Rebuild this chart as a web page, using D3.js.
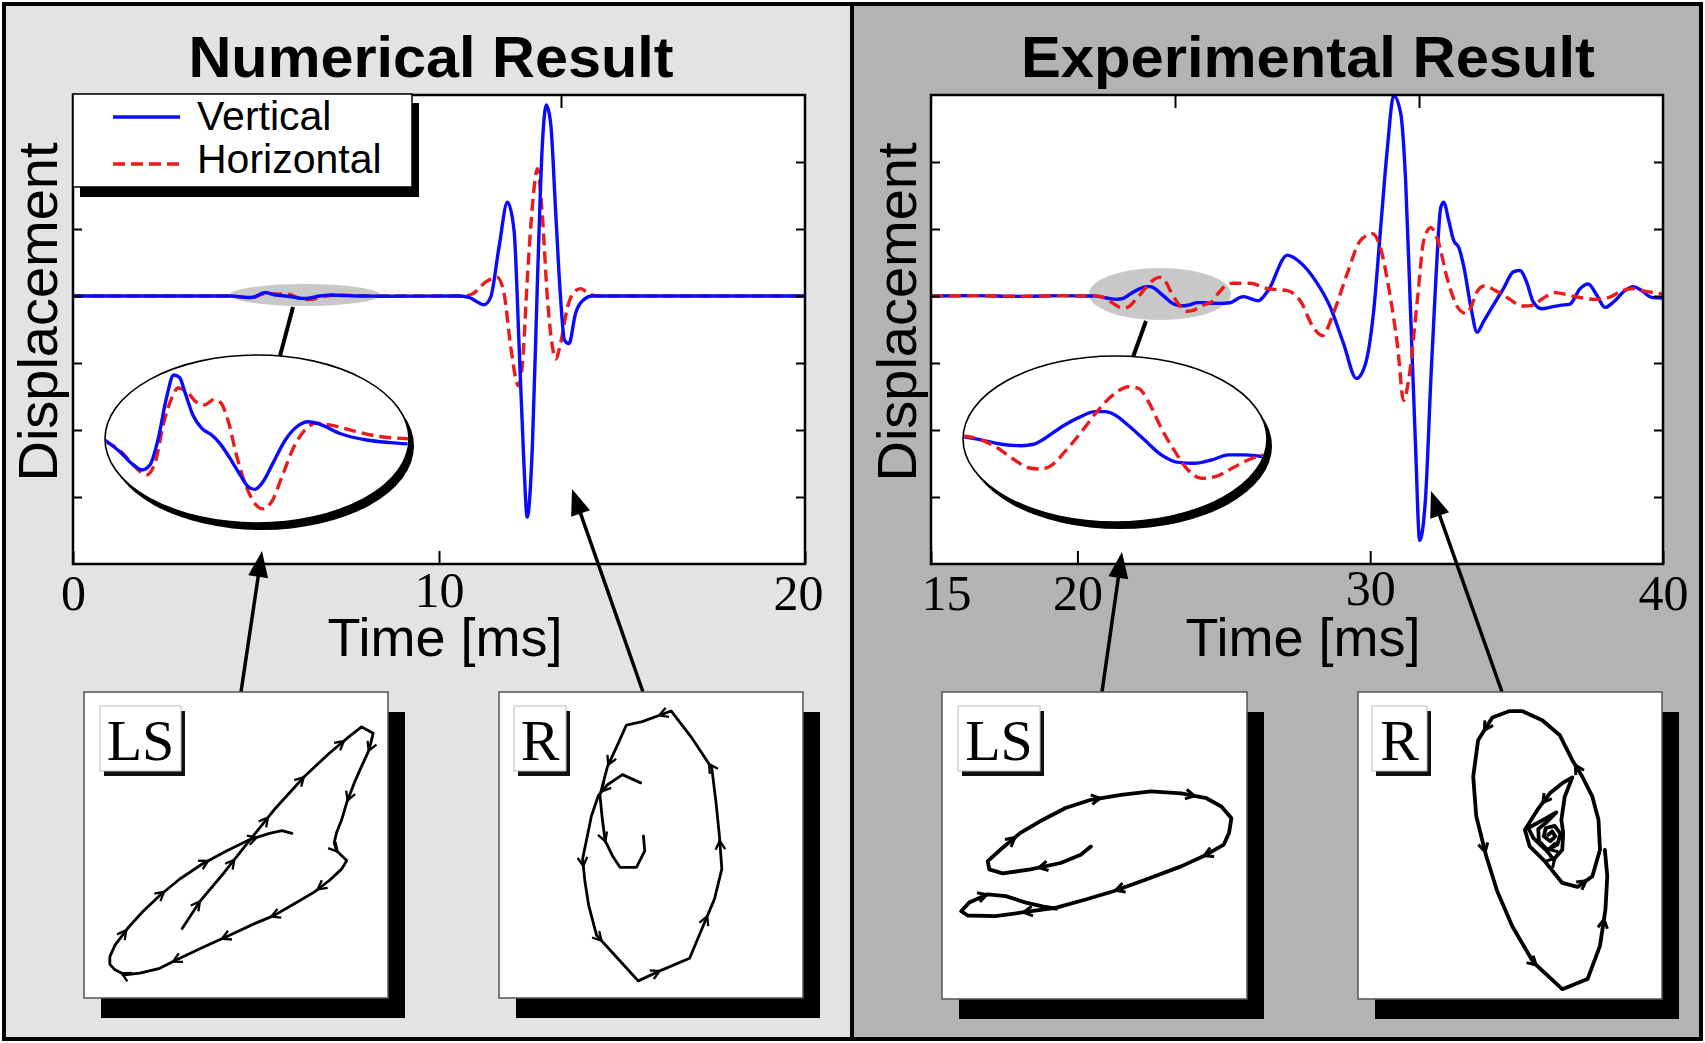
<!DOCTYPE html>
<html>
<head>
<meta charset="utf-8">
<script src="https://cdn.jsdelivr.net/npm/d3@7"></script>
<style>
  html, body { margin: 0; padding: 0; background: #ffffff; }
  svg { display: block; }
</style>
</head>
<body>
<svg id="fig" width="1705" height="1043"></svg>
<script>
// ---------- axis ticks ----------
const numTicks = [0, 10, 20];
const expTicks = [15, 20, 30, 40];
const yTicks = [-3, -2, -1, 0, 1, 2];

// ---------- numerical result: [time ms, displacement] ----------
// Love-type (LS) arrival, shown magnified in the ellipse
const numLsVertical = [
  [4.30, 0.000], [4.50, -0.009], [4.68, -0.019], [4.80, -0.023], [4.91, -0.019],
  [5.02, 0.001], [5.13, 0.032], [5.23, 0.050], [5.31, 0.048], [5.38, 0.037],
  [5.49, 0.019], [5.61, 0.009], [5.74, 0.004], [5.86, -0.003], [5.99, -0.014],
  [6.13, -0.027], [6.24, -0.036], [6.33, -0.038], [6.44, -0.032], [6.58, -0.017],
  [6.74, 0.000], [6.89, 0.010], [7.05, 0.014], [7.21, 0.012], [7.48, 0.005],
  [7.84, 0.000], [8.16, -0.002], [8.40, -0.003]
];
const numLsHorizontal = [
  [4.30, -0.001], [4.50, -0.008], [4.68, -0.019], [4.86, -0.027], [4.98, -0.017],
  [5.09, 0.012], [5.20, 0.032], [5.29, 0.040], [5.41, 0.037], [5.54, 0.029],
  [5.65, 0.027], [5.77, 0.031], [5.86, 0.029], [5.97, 0.014], [6.08, -0.012],
  [6.22, -0.037], [6.33, -0.049], [6.44, -0.053], [6.56, -0.047], [6.69, -0.029],
  [6.85, -0.006], [7.01, 0.008], [7.16, 0.013], [7.39, 0.011], [7.66, 0.007],
  [7.98, 0.003], [8.40, 0.001]
];
// Rayleigh (R) wave packet
const numPacketVertical = [
  [10.5, 0], [10.82, -0.02], [11.05, -0.09], [11.23, -0.13], [11.41, -0.02],
  [11.64, 0.73], [11.87, 1.40], [12.05, 0.98], [12.19, -0.76], [12.32, -2.50],
  [12.41, -3.30], [12.55, -2.26], [12.69, 0.23], [12.82, 2.22], [12.93, 2.85],
  [13.05, 2.58], [13.19, 1.23], [13.32, -0.02], [13.43, -0.66], [13.55, -0.71],
  [13.73, -0.26], [13.92, -0.07], [14.19, 0], [20, 0]
];
const numPacketHorizontal = [
  [10.3, 0], [10.64, 0], [10.91, 0.03], [11.28, 0.21], [11.59, 0.28],
  [11.78, 0.03], [11.96, -0.76], [12.17, -1.34], [12.28, -1.01], [12.41, 0.23],
  [12.55, 1.33], [12.69, 1.90], [12.82, 1.23], [12.96, -0.02], [13.10, -0.76],
  [13.19, -0.94], [13.32, -0.71], [13.51, -0.17], [13.69, 0.06], [13.87, 0.11],
  [14.10, 0.03], [14.37, 0], [20, 0]
];

// ---------- experimental result: [time ms, displacement] ----------
const expLead = [[15, 0], [16.5, 0.005], [18, -0.005], [19.5, 0.005], [20.3, 0]];
const expLsVertical = [
  [20.60, 0.002], [20.85, -0.017], [21.11, -0.040], [21.37, -0.048], [21.53, -0.040],
  [21.68, -0.007], [21.90, 0.057], [22.12, 0.107], [22.34, 0.140], [22.47, 0.140],
  [22.60, 0.122], [22.77, 0.066], [22.99, -0.017], [23.21, -0.099], [23.43, -0.140],
  [23.65, -0.145], [23.87, -0.127], [24.09, -0.099], [24.31, -0.099], [24.55, -0.109]
];
const expLsHorizontal = [
  [20.60, 0.006], [20.85, -0.017], [21.06, -0.062], [21.28, -0.127], [21.46, -0.170],
  [21.61, -0.177], [21.77, -0.155], [21.94, -0.081], [22.16, 0.029], [22.38, 0.149],
  [22.60, 0.241], [22.78, 0.278], [22.91, 0.269], [23.04, 0.195], [23.21, 0.048],
  [23.39, -0.081], [23.56, -0.182], [23.74, -0.228], [23.92, -0.219], [24.14, -0.173],
  [24.35, -0.127], [24.55, -0.099]
];
const expPacketVertical = [
  [24.87, -0.11], [25.20, -0.10], [25.66, -0.01], [26.17, -0.07], [26.51, 0.08],
  [27.17, 0.61], [27.61, 0.50], [28.13, 0.23], [28.64, -0.17], [29.09, -0.71],
  [29.53, -1.23], [29.84, -1.01], [30.11, -0.26], [30.35, 0.98], [30.59, 2.22],
  [30.80, 2.99], [31.04, 2.73], [31.21, 1.72], [31.38, -0.26], [31.55, -2.26],
  [31.69, -3.65], [31.89, -3.01], [32.07, -1.26], [32.24, 0.23], [32.41, 1.32],
  [32.51, 1.40], [32.68, 1.13], [32.85, 0.83], [33.03, 0.72], [33.20, 0.43],
  [33.44, -0.17], [33.65, -0.54], [33.86, -0.39], [34.20, -0.14], [34.55, 0.11],
  [34.89, 0.36], [35.12, 0.38], [35.34, 0.21], [35.57, -0.09], [35.86, -0.19],
  [36.14, -0.17], [36.48, -0.14], [36.82, -0.12], [37.17, 0.11], [37.45, 0.18],
  [37.74, 0.01], [38.02, -0.17], [38.31, -0.09], [38.70, 0.08], [38.99, 0.14],
  [39.27, 0.08], [39.61, -0.02], [40.0, -0.03]
];
const expPacketHorizontal = [
  [24.85, 0.06], [25.10, 0.17], [25.32, 0.19], [25.90, 0.19], [26.48, 0.11],
  [27.17, 0.08], [27.61, -0.07], [28.06, -0.47], [28.37, -0.59], [28.74, -0.26],
  [29.22, 0.34], [29.67, 0.83], [30.08, 0.93], [30.35, 0.72], [30.63, 0.13],
  [30.94, -0.77], [31.14, -1.56], [31.31, -1.26], [31.62, -0.02], [31.83, 0.83],
  [32.07, 1.02], [32.31, 0.83], [32.65, 0.23], [32.99, -0.17], [33.27, -0.26],
  [33.45, -0.16], [33.62, 0.04], [33.89, 0.15], [34.28, 0.08], [34.74, -0.04],
  [35.19, -0.15], [35.54, -0.14], [35.88, -0.04], [36.34, 0.05], [36.79, 0.01],
  [37.25, -0.03], [37.70, -0.05], [38.16, -0.02], [38.61, 0.08], [38.96, 0.11],
  [39.41, 0.07], [40.0, 0.03]
];

// full traces
const numVertical = [[0, 0]].concat(numLsVertical, numPacketVertical);
const numHorizontal = [[0, 0]].concat(numLsHorizontal, numPacketHorizontal);
const expVertical = expLead.concat(expLsVertical, expPacketVertical);
const expHorizontal = expLead.concat(expLsHorizontal, expPacketHorizontal);

// ---------- particle motion (hodograms): [horizontal, vertical] ----------
const lsNum = [
  [32.3, 22.7], [38.0, 31.4], [46.2, 41.1], [54.4, 51.4], [62.6, 61.6], [72.5, 72.4],
  [80.7, 80.0], [87.2, 85.4], [91.3, 88.6], [95.1, 86.5], [93.8, 81.1], [91.3, 75.7],
  [88.9, 70.3], [86.4, 63.8], [84.8, 58.4], [83.1, 54.1], [82.3, 50.8], [83.1, 48.1],
  [86.4, 44.9], [84.8, 42.2], [80.7, 38.4], [75.7, 34.6], [69.2, 30.8], [62.6, 27.0],
  [56.1, 24.3], [47.9, 20.5], [39.7, 16.8], [31.5, 13.0], [24.9, 9.7], [18.4, 8.1],
  [13.4, 7.6], [10.2, 9.2], [8.5, 11.0], [8.5, 13.5], [10.2, 17.3], [14.3, 22.7],
  [19.2, 28.1], [24.9, 33.5], [31.5, 38.9], [38.9, 43.8], [47.0, 48.1], [54.4, 51.7],
  [61.0, 53.8], [65.1, 54.7], [68.4, 53.8]
];
const rNum = [
  [46.6, 70.3], [40.6, 73.0], [35.7, 69.7], [32.7, 66.2], [30.4, 59.5], [27.5, 45.4],
  [28.3, 37.8], [29.5, 30.3], [32.1, 20.5], [39.0, 13.0], [45.8, 5.6], [53.7, 9.2],
  [62.7, 13.0], [66.8, 22.7], [70.9, 32.4], [73.3, 42.2], [72.5, 53.0], [71.4, 63.8],
  [70.0, 75.1], [63.5, 84.9], [56.6, 93.8], [47.1, 90.3], [41.9, 89.2], [39.0, 82.7],
  [35.7, 75.7], [33.2, 66.2], [34.0, 58.4], [34.9, 51.4], [37.3, 46.5], [39.8, 42.7],
  [45.2, 42.7], [47.95, 48.1], [47.5, 53.0]
];
const lsExp = [
  [48.8, 49.7], [45.5, 47.0], [38.9, 44.3], [29.0, 42.2], [19.9, 40.9], [15.5, 42.2],
  [15.0, 44.9], [19.1, 48.6], [25.7, 54.1], [33.1, 58.4], [40.5, 62.2], [48.8, 64.9],
  [58.7, 66.5], [68.5, 67.6], [78.4, 67.0], [86.7, 65.4], [91.6, 62.7], [94.9, 58.9],
  [94.1, 54.1], [92.4, 50.3], [86.7, 47.0], [78.4, 43.2], [66.9, 38.9], [56.2, 35.1],
  [47.1, 32.4], [37.2, 29.7], [25.7, 28.1], [17.5, 27.0], [8.4, 27.2], [6.3, 28.6],
  [8.9, 31.4], [15.0, 34.1], [20.9, 33.5], [27.5, 31.4], [33.3, 30.1], [37.4, 29.4]
];
const rExp = [
  [62.6, 53.5], [63.9, 54.6], [64.9, 53.0], [63.3, 51.4], [61.1, 53.0], [61.8, 55.7],
  [64.7, 56.4], [66.6, 53.8], [65.6, 50.3], [62.3, 48.6], [59.5, 51.4], [59.3, 55.4],
  [62.3, 57.8], [65.2, 60.8], [60.6, 58.2], [56.0, 55.7], [57.7, 52.4], [62.3, 48.1],
  [64.3, 45.4], [67.2, 48.6], [67.5, 54.1], [66.9, 58.4], [68.0, 65.9], [70.5, 72.2],
  [67.2, 70.3], [63.1, 67.0], [59.0, 61.6], [54.9, 55.1], [56.5, 49.7], [61.4, 44.9],
  [67.2, 37.8], [72.2, 36.5], [77.1, 40.0], [79.6, 48.6], [79.1, 58.4], [77.1, 65.9],
  [73.8, 72.4], [70.5, 77.8], [66.4, 85.9], [60.6, 90.8], [54.0, 93.8], [49.9, 93.8],
  [44.2, 91.7], [39.5, 84.3], [37.9, 72.4], [38.9, 59.5], [42.2, 46.5], [45.8, 35.1],
  [50.7, 23.8], [57.7, 11.9], [67.2, 3.2], [75.5, 6.5], [79.6, 17.3], [81.4, 29.2],
  [82.0, 40.0], [81.2, 48.6]
];

const seriesNames = ["Vertical", "Horizontal"];

// ---------- styling ----------
const SANS = "'Liberation Sans', Arial, Helvetica, sans-serif";
const SERIF = "'Liberation Serif', 'Times New Roman', serif";
const BLUE = "#0a0aff";
const RED = "#ec1a1a";
const DASH = "12,6";
const TRACE_W = 3.4;
const PLOT_TOP = 95, PLOT_BOTTOM = 564;

const panels = [
  {
    id: "num", x: 4, width: 848, fill: "#e3e3e3",
    title: "Numerical Result", titleX: 431, titleLen: 485,
    plotL: 73, plotR: 805, domain: [0, 20], ticks: numTicks,
    topTicks: [20 / 3, 40 / 3], tickShift: { 20: [-7, 0], 10: [0, -3] },
    vertical: numVertical, horizontal: numHorizontal, redOnTop: false,
    ylabelX: 57, timeX: 445, legend: true,
    lens: { cx: 305, cy: 295, rx: 75, ry: 11 },
    link: [[293, 307], [280, 356]],
    inset: { cx: 257, cy: 439, rx: 152, ry: 84, dom: [4.3, 8.4], x0: 105, x1: 408,
             base: 440, gain: 1300, v: numLsVertical, h: numLsHorizontal },
    hodo: [
      { label: "LS", data: lsNum, box: [84, 692, 304, 306], labelBox: [100, 706, 81, 65],
        arrow: [[241, 692], [262, 551]], spacing: 54, lw: 2.8, cw: 2.3 },
      { label: "R", data: rNum, box: [499, 692, 304, 306], labelBox: [514, 706, 52, 65],
        arrow: [[643, 692], [572, 489]], spacing: 78, lw: 2.8, cw: 2.3 }
    ]
  },
  {
    id: "exp", x: 852, width: 849, fill: "#b3b3b3",
    title: "Experimental Result", titleX: 1308, titleLen: 574,
    plotL: 931, plotR: 1663, domain: [15, 40], ticks: expTicks,
    topTicks: [15 + 25 / 3, 15 + 50 / 3], tickShift: { 15: [15, 0], 30: [0, -5] },
    vertical: expVertical, horizontal: expHorizontal, redOnTop: true,
    ylabelX: 916, timeX: 1303, legend: false,
    lens: { cx: 1160, cy: 294, rx: 71, ry: 26 },
    link: [[1146, 321], [1133, 357]],
    inset: { cx: 1115, cy: 439, rx: 152, ry: 83, dom: [20.6, 24.6], x0: 963, x1: 1267,
             base: 437, gain: 181, v: expLsVertical, h: expLsHorizontal },
    hodo: [
      { label: "LS", data: lsExp, box: [942, 692, 305, 307], labelBox: [958, 706, 82, 65],
        arrow: [[1102, 692], [1122, 552]], spacing: 95, lw: 3.8, cw: 3 },
      { label: "R", data: rExp, box: [1358, 692, 304, 307], labelBox: [1372, 706, 55, 65],
        arrow: [[1502, 692], [1431, 491]], spacing: 125, lw: 3.8, cw: 3 }
    ]
  }
];

const svg = d3.select("#fig");
const defs = svg.append("defs");

function arrowLine(g, from, to, width, headLen, headW) {
  const dx = to[0] - from[0], dy = to[1] - from[1];
  const L = Math.hypot(dx, dy), ux = dx / L, uy = dy / L;
  const bx = to[0] - ux * headLen, by = to[1] - uy * headLen;
  g.append("line").attr("x1", from[0]).attr("y1", from[1])
    .attr("x2", bx + ux * 2).attr("y2", by + uy * 2)
    .attr("stroke", "#000").attr("stroke-width", width);
  g.append("path")
    .attr("d", `M${to[0]},${to[1]}L${bx - uy * headW},${by + ux * headW}L${bx + uy * headW},${by - ux * headW}Z`)
    .attr("fill", "#000");
}

panels.forEach(p => {
  const g = svg.append("g").attr("class", "panel-" + p.id);

  // panel background and frame
  g.append("rect").attr("x", p.x).attr("y", 4).attr("width", p.width).attr("height", 1035)
    .attr("fill", p.fill).attr("stroke", "#000").attr("stroke-width", 4);

  // title
  g.append("text").attr("x", p.titleX).attr("y", 77)
    .attr("text-anchor", "middle").attr("font-family", SANS).attr("font-weight", "bold")
    .attr("font-size", 57).attr("textLength", p.titleLen).attr("lengthAdjust", "spacingAndGlyphs")
    .text(p.title);

  const x = d3.scaleLinear().domain(p.domain).range([p.plotL, p.plotR]);
  const y = d3.scaleLinear().domain([-4, 3]).range([PLOT_BOTTOM, PLOT_TOP]);

  // plot area
  g.append("rect").attr("x", p.plotL).attr("y", PLOT_TOP)
    .attr("width", p.plotR - p.plotL).attr("height", PLOT_BOTTOM - PLOT_TOP).attr("fill", "#fff");

  // grey marker around the early arrival
  g.append("ellipse").attr("cx", p.lens.cx).attr("cy", p.lens.cy)
    .attr("rx", p.lens.rx).attr("ry", p.lens.ry).attr("fill", "#c8c8c8");

  const clipId = "clip-" + p.id;
  defs.append("clipPath").attr("id", clipId).append("rect")
    .attr("x", p.plotL).attr("y", PLOT_TOP - 2)
    .attr("width", p.plotR - p.plotL).attr("height", PLOT_BOTTOM - PLOT_TOP + 4);

  const line = d3.line().x(d => x(d[0])).y(d => y(d[1])).curve(d3.curveMonotoneX);
  const lines = g.append("g").attr("clip-path", `url(#${clipId})`);
  const drawV = () => lines.append("path").datum(p.vertical).attr("d", line)
    .attr("fill", "none").attr("stroke", BLUE).attr("stroke-width", TRACE_W);
  const drawH = () => lines.append("path").datum(p.horizontal).attr("d", line)
    .attr("fill", "none").attr("stroke", RED).attr("stroke-width", TRACE_W).attr("stroke-dasharray", DASH);
  if (p.redOnTop) { drawV(); drawH(); } else { drawH(); drawV(); }

  // connector from marker to magnified view
  g.append("line").attr("x1", p.link[0][0]).attr("y1", p.link[0][1])
    .attr("x2", p.link[1][0]).attr("y2", p.link[1][1])
    .attr("stroke", "#000").attr("stroke-width", 4);

  // magnified early arrival
  const ins = p.inset;
  g.append("ellipse").attr("cx", ins.cx + 5).attr("cy", ins.cy + 7)
    .attr("rx", ins.rx).attr("ry", ins.ry).attr("fill", "#000");
  g.append("ellipse").attr("cx", ins.cx).attr("cy", ins.cy)
    .attr("rx", ins.rx).attr("ry", ins.ry).attr("fill", "#fff")
    .attr("stroke", "#000").attr("stroke-width", 1.6);
  const insClip = "inset-clip-" + p.id;
  defs.append("clipPath").attr("id", insClip).append("ellipse")
    .attr("cx", ins.cx).attr("cy", ins.cy).attr("rx", ins.rx - 1).attr("ry", ins.ry - 1);
  const ix = d3.scaleLinear().domain(ins.dom).range([ins.x0, ins.x1]);
  const iy = d3.scaleLinear().domain([0, 1]).range([ins.base, ins.base - ins.gain]);
  const iline = d3.line().x(d => ix(d[0])).y(d => iy(d[1])).curve(d3.curveMonotoneX);
  const ig = g.append("g").attr("clip-path", `url(#${insClip})`);
  const iV = () => ig.append("path").datum(ins.v).attr("d", iline)
    .attr("fill", "none").attr("stroke", BLUE).attr("stroke-width", TRACE_W);
  const iH = () => ig.append("path").datum(ins.h).attr("d", iline)
    .attr("fill", "none").attr("stroke", RED).attr("stroke-width", TRACE_W).attr("stroke-dasharray", DASH);
  if (p.redOnTop) { iV(); iH(); } else { iH(); iV(); }

  // axes: inward ticks on all four sides
  const styleAxis = sel => {
    sel.select(".domain").remove();
    sel.selectAll(".tick line").attr("stroke", "#000").attr("stroke-width", 2);
  };
  const bottom = g.append("g").attr("transform", `translate(0,${PLOT_BOTTOM})`)
    .call(d3.axisBottom(x).tickValues(p.ticks).tickSize(-13).tickFormat(d3.format("d")))
    .call(styleAxis);
  bottom.selectAll(".tick text")
    .attr("y", d => 46 + (p.tickShift[d] ? p.tickShift[d][1] : 0)).attr("dy", 0)
    .attr("dx", d => (p.tickShift[d] ? p.tickShift[d][0] : 0))
    .attr("font-family", SERIF).attr("font-size", 50).attr("fill", "#000");
  bottom.attr("font-family", null).attr("font-size", null);

  g.append("g").attr("transform", `translate(0,${PLOT_TOP})`)
    .call(d3.axisTop(x).tickValues(p.topTicks).tickSize(-13).tickFormat(""))
    .call(styleAxis);
  g.append("g").attr("transform", `translate(${p.plotL},0)`)
    .call(d3.axisLeft(y).tickValues(yTicks).tickSize(-9).tickFormat(""))
    .call(styleAxis);
  g.append("g").attr("transform", `translate(${p.plotR},0)`)
    .call(d3.axisRight(y).tickValues(yTicks).tickSize(-9).tickFormat(""))
    .call(styleAxis);

  g.append("rect").attr("x", p.plotL).attr("y", PLOT_TOP)
    .attr("width", p.plotR - p.plotL).attr("height", PLOT_BOTTOM - PLOT_TOP)
    .attr("fill", "none").attr("stroke", "#000").attr("stroke-width", 2.5);

  // legend, drawn over the frame corner
  if (p.legend) {
    const lg = g.append("g");
    lg.append("rect").attr("x", 80).attr("y", 103).attr("width", 339).attr("height", 94).attr("fill", "#000");
    lg.append("rect").attr("x", 73).attr("y", 94).attr("width", 339).attr("height", 93)
      .attr("fill", "#fff").attr("stroke", "#000").attr("stroke-width", 1.5);
    const rows = [
      { name: seriesNames[0], color: BLUE, dash: null, y: 117, ty: 130 },
      { name: seriesNames[1], color: RED, dash: DASH, y: 164, ty: 173 }
    ];
    rows.forEach(r => {
      lg.append("line").attr("x1", 113).attr("x2", 180).attr("y1", r.y).attr("y2", r.y)
        .attr("stroke", r.color).attr("stroke-width", TRACE_W)
        .attr("stroke-dasharray", r.dash);
      lg.append("text").attr("x", 197).attr("y", r.ty).attr("font-family", SANS)
        .attr("font-size", 41).text(r.name);
    });
  }

  // axis titles
  g.append("text").attr("transform", `translate(${p.ylabelX},312) rotate(-90)`)
    .attr("text-anchor", "middle").attr("font-family", SANS).attr("font-size", 56)
    .attr("textLength", 339).attr("lengthAdjust", "spacingAndGlyphs")
    .text("Displacement");
  g.append("text").attr("x", p.timeX).attr("y", 656)
    .attr("text-anchor", "middle").attr("font-family", SANS).attr("font-size", 54)
    .text("Time [ms]");

  // particle-motion panels
  p.hodo.forEach(h => {
    const [bx, by, bw, bh] = h.box;
    const hg = g.append("g");
    arrowLine(hg, h.arrow[0], h.arrow[1], 3.5, 26, 10);
    hg.append("rect").attr("x", bx + 17).attr("y", by + 20).attr("width", bw).attr("height", bh).attr("fill", "#000");
    hg.append("rect").attr("x", bx).attr("y", by).attr("width", bw).attr("height", bh)
      .attr("fill", "#fff").attr("stroke", "#555").attr("stroke-width", 1.5);

    const [lx, ly, lw, lh] = h.labelBox;
    hg.append("rect").attr("x", lx + 4).attr("y", ly + 5).attr("width", lw).attr("height", lh).attr("fill", "#111");
    hg.append("rect").attr("x", lx).attr("y", ly).attr("width", lw).attr("height", lh)
      .attr("fill", "#fff").attr("stroke", "#bbb").attr("stroke-width", 1);
    hg.append("text").attr("x", lx + lw / 2).attr("y", ly + 54).attr("text-anchor", "middle")
      .attr("font-family", SERIF).attr("font-size", 58).text(h.label);

    const hx = d3.scaleLinear().domain([0, 100]).range([bx, bx + bw]);
    const hy = d3.scaleLinear().domain([0, 100]).range([by + bh, by]);
    const path = hg.append("path").datum(h.data)
      .attr("d", d3.line().x(d => hx(d[0])).y(d => hy(d[1])))
      .attr("fill", "none").attr("stroke", "#000").attr("stroke-width", h.lw)
      .attr("stroke-linejoin", "round").attr("stroke-linecap", "round");

    // direction chevrons along the trajectory
    const node = path.node();
    const total = node.getTotalLength();
    const size = 10, spread = 0.5;
    let chev = "";
    for (let s = h.spacing * 0.6; s < total - 6; s += h.spacing) {
      const a = node.getPointAtLength(Math.max(0, s - 2));
      const b = node.getPointAtLength(Math.min(total, s + 2));
      const ang = Math.atan2(b.y - a.y, b.x - a.x);
      const tip = node.getPointAtLength(s);
      const w1 = [tip.x - size * Math.cos(ang - spread), tip.y - size * Math.sin(ang - spread)];
      const w2 = [tip.x - size * Math.cos(ang + spread), tip.y - size * Math.sin(ang + spread)];
      chev += `M${w1[0]},${w1[1]}L${tip.x},${tip.y}L${w2[0]},${w2[1]}`;
    }
    hg.append("path").attr("d", chev).attr("fill", "none").attr("stroke", "#000")
      .attr("stroke-width", h.cw).attr("stroke-linejoin", "miter");
  });
});
</script>
</body>
</html>
